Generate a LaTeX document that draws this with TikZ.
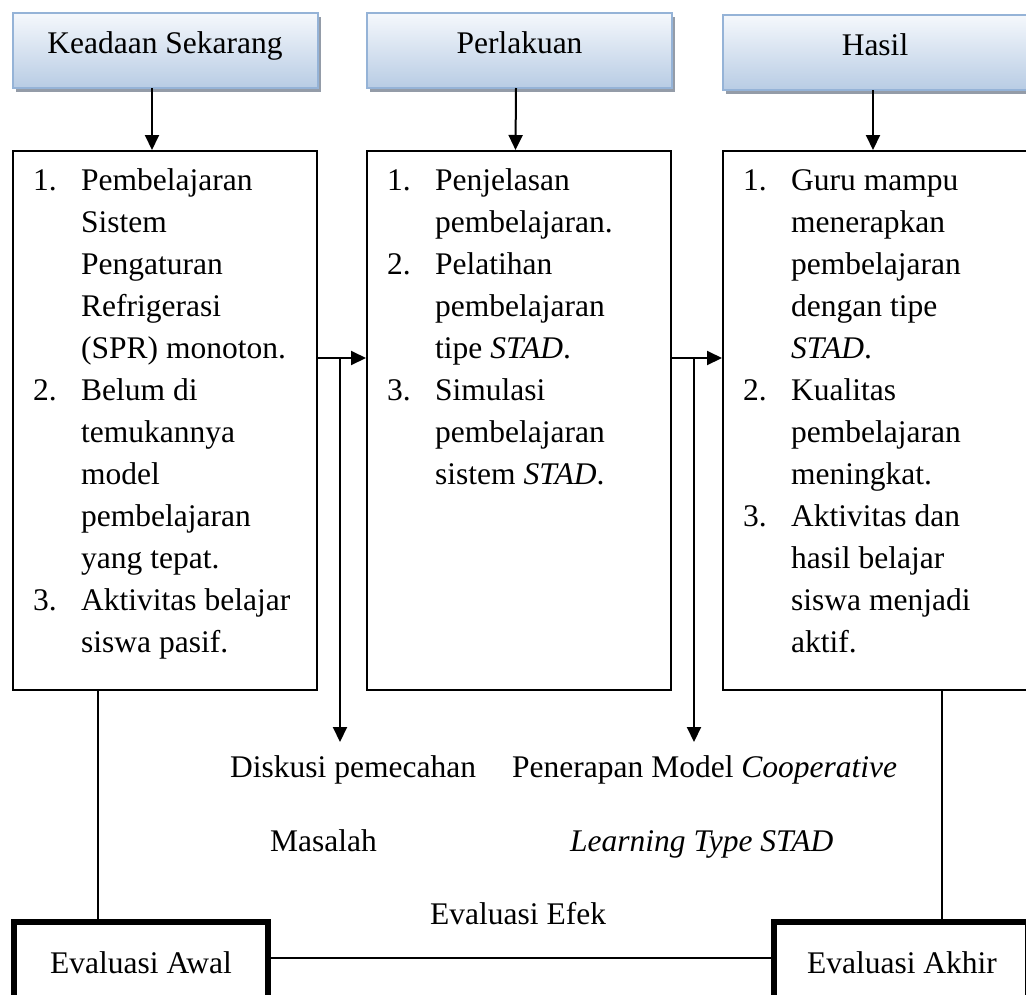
\documentclass[tikz,border=0pt]{standalone}
\usepackage{fontspec}
\setmainfont{Liberation Serif}
\usetikzlibrary{arrows.meta,shadows}
\definecolor{hdrline}{RGB}{149,179,215}
\definecolor{hdrtop}{RGB}{245,248,252}
\definecolor{hdrbot}{RGB}{184,204,228}
\definecolor{shgray}{RGB}{148,156,168}
\newcommand\bodyfont{\fontsize{31.5pt}{42pt}\selectfont}
\newcommand\num[1]{\makebox[48pt][l]{#1}}
\begin{document}
\begin{tikzpicture}[x=1pt,y=-1pt,
 hdr/.style={draw=hdrline, line width=2pt, top color=hdrtop, bottom color=hdrbot,
   minimum width=305pt, minimum height=75pt, inner sep=0pt, outer sep=0pt,
   text height=21pt, text depth=15pt, font=\bodyfont,
   drop shadow={shadow xshift=3pt, shadow yshift=-4pt, fill=shgray, opacity=1}},
 cbox/.style={draw, line width=2pt, minimum width=304pt, minimum height=539pt, inner sep=0pt, anchor=north west},
 list/.style={anchor=base west, inner sep=0pt, font=\bodyfont},
 lbl/.style={anchor=base west, inner sep=0pt, font=\bodyfont},
 evbox/.style={draw, line width=6pt, minimum width=254pt, minimum height=100pt, inner sep=0pt, anchor=north west},
 evtxt/.style={anchor=base, inner sep=0pt, font=\bodyfont},
 arr/.style={line width=2pt, -{Triangle[length=15pt,width=14pt]}},
 ln/.style={line width=2pt},
]
\useasboundingbox (0,0) rectangle (1026,994);
\clip (0,0) rectangle (1026,994);
\fill[white] (0,0) rectangle (1026,994);

% header boxes
\node[hdr] (h1) at (165,50.5) {Keadaan Sekarang};
\node[hdr] (h2) at (519.5,50.5) {Perlakuan};
\node[hdr] (h3) at (875,52.5) {Hasil};

% content boxes
\node[cbox] (c1) at (12,150) {};
\node[cbox] (c2) at (366,150) {};
\node[cbox] (c3) at (722,150) {};

\node[list] (l1) at (33,190) {\begin{tabular}[t]{@{}l@{}l@{}}
\num{1.} & Pembelajaran\\
 & Sistem\\
 & Pengaturan\\
 & Refrigerasi\\
 & (SPR) monoton.\\
\num{2.} & Belum di\\
 & temukannya\\
 & model\\
 & pembelajaran\\
 & yang tepat.\\
\num{3.} & Aktivitas belajar\\
 & siswa pasif.
\end{tabular}};

\node[list] (l2) at (387,190) {\begin{tabular}[t]{@{}l@{}l@{}}
\num{1.} & Penjelasan\\
 & pembelajaran.\\
\num{2.} & Pelatihan\\
 & pembelajaran\\
 & tipe \textit{STAD}.\\
\num{3.} & Simulasi\\
 & pembelajaran\\
 & sistem \textit{STAD}.
\end{tabular}};

\node[list] (l3) at (743,190) {\begin{tabular}[t]{@{}l@{}l@{}}
\num{1.} & Guru mampu\\
 & menerapkan\\
 & pembelajaran\\
 & dengan tipe\\
 & \textit{STAD}.\\
\num{2.} & Kualitas\\
 & pembelajaran\\
 & meningkat.\\
\num{3.} & Aktivitas dan\\
 & hasil belajar\\
 & siswa menjadi\\
 & aktif.
\end{tabular}};

% header arrows
\draw[arr] ([xshift=-13pt]h1.south) -- ([xshift=-13pt]c1.north);
\draw[arr] ([xshift=-3.5pt]h2.south) -- ([xshift=-3.5pt]c2.north);
\draw[arr] ([xshift=-2pt]h3.south) -- ([xshift=-2pt]c3.north);

% horizontal arrows between content boxes
\draw[arr] ([yshift=62.5pt]c1.east) -- ([yshift=62.5pt]c2.west);
\draw[arr] ([yshift=62.5pt]c2.east) -- ([yshift=62.5pt]c3.west);

% vertical down arrows
\coordinate (d1) at (340,358);
\coordinate (d1e) at (340,742);
\coordinate (d2) at (694,358);
\coordinate (d2e) at (694,742);
\draw[arr] (d1) -- (d1e);
\draw[arr] (d2) -- (d2e);

% middle labels
\node[lbl] (t1) at (230,777) {Diskusi pemecahan};
\node[lbl] (t2) at (512,777) {Penerapan Model \textit{Cooperative}};
\node[lbl] (t3) at (270,851) {Masalah};
\node[lbl] (t4) at (570,851) {\textit{Learning Type STAD}};
\node[lbl] (t5) at (430,924) {Evaluasi Efek};

% evaluation boxes
\node[evbox] (ea) at (11,919) {};
\node[evbox] (ek) at (771,919) {};
\node[evtxt] (eat) at (141,973) {Evaluasi Awal};
\node[evtxt] (ekt) at (902,973) {Evaluasi Akhir};

\draw[ln] ([yshift=14pt]ea.east) -- ([yshift=14pt]ek.west);
\draw[ln] ([xshift=-67pt]c1.south) -- ([xshift=-67pt]c1.south |- ea.north);
\draw[ln] ([xshift=67pt]c3.south) -- ([xshift=67pt]c3.south |- ek.north);
\end{tikzpicture}
\end{document}
